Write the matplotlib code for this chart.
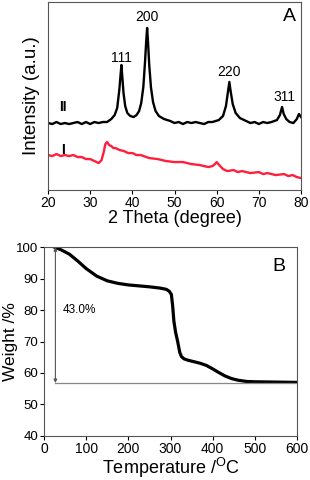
import matplotlib.pyplot as plt
import numpy as np

plt.rcParams['font.family'] = ['Liberation Sans', 'DejaVu Sans']

# XRD patterns (arbitrary intensity units)
xrd_theta_2 = [20, 21, 22, 23, 24, 25, 26, 27, 28, 29, 30, 31, 32, 33, 34, 35, 35.8, 36.4, 36.9, 37.2, 37.4,
               37.6, 37.9, 38.3, 38.8, 39.5, 40.3, 41, 41.6, 42.1, 42.6, 43, 43.3, 43.5, 43.7, 44, 44.4, 44.9,
               45.5, 46.3, 47.5, 49, 50, 51, 52, 53, 54, 55, 56, 57, 58, 59, 60.5, 61.5, 62.2, 62.7, 63, 63.3,
               63.8, 64.5, 65.5, 67, 68, 69, 70, 71, 72, 73, 74.3, 75, 75.5, 75.9, 76.5, 77.3, 78.2, 79, 79.5, 80]
xrd_I_2 = [67, 66, 68, 66, 67, 66, 67, 68, 66, 68, 66, 68, 67, 68, 68, 71, 75, 82, 100, 115, 125,
           114, 97, 84, 77, 74, 73, 75, 79, 87, 103, 128, 150, 162, 149, 125, 103, 88,
           79, 74, 71, 69, 67, 68, 66, 68, 67, 68, 67, 66, 68, 68, 70, 74, 84, 99, 108, 99,
           86, 77, 72, 69, 67, 68, 66, 68, 67, 68, 70, 75, 83, 76, 71, 68, 67, 71, 76, 73]
xrd_theta_1 = [20, 21, 22, 23, 24, 25, 26, 27, 28, 29, 30, 31, 32, 32.7, 33.2, 33.6, 34, 34.5, 35, 35.5, 36,
               37, 38, 39, 40, 41, 42, 44, 46, 48, 50, 52, 54, 56, 57, 58, 59, 59.6, 60, 60.6, 61.5, 62.5, 64,
               65, 66, 68, 70, 71, 72, 74, 76, 77, 78, 79, 80]
xrd_I_1 = [35, 34, 36, 34, 35, 34, 35, 33, 33, 31, 31, 29, 27, 30, 38, 46, 48, 45, 44, 42, 42,
           40, 39, 37, 37, 35, 35, 32, 31, 29, 28, 28, 26, 25, 24, 23, 24, 26, 28, 25, 21, 19, 20,
           18, 19, 17, 18, 16, 17, 15, 16, 14, 15, 13, 12]
peak_pos = [37.5, 43.5, 63, 76]
peak_lab = ['111', '200', '220', '311']
peak_y = [132, 173, 118, 93]

# TGA curve
tga_T = [25, 40, 60, 80, 100, 125, 150, 175, 200, 225, 250, 275, 290, 297, 302, 305, 308, 312, 317, 322,
         326, 332, 340, 355, 370, 385, 400, 415, 430, 445, 460, 480, 500, 550, 600]
tga_W = [100, 99.2, 97.8, 95.6, 93.2, 90.8, 89.3, 88.5, 88.0, 87.7, 87.4, 87.0, 86.6, 86.0, 85.0, 81.5, 76.5,
         73.0, 70.0, 66.5, 65.2, 64.5, 64.1, 63.6, 63.1, 62.4, 61.3, 60.1, 59.0, 58.2, 57.7, 57.3, 57.2, 57.1, 57.0]
loss_top, loss_bot = 100, 56.8

fig = plt.figure(figsize=(3.1, 4.8), dpi=100)
ax1 = fig.add_axes([0.155, 0.604, 0.816, 0.392])
ax2 = fig.add_axes([0.142, 0.092, 0.816, 0.393])

ax1.plot(xrd_theta_2, xrd_I_2, color='black', lw=1.7)
ax1.plot(xrd_theta_1, xrd_I_1, color='#ff1e3c', lw=1.7)
for p, lab, y in zip(peak_pos, peak_lab, peak_y):
    ax1.text(p, y, lab, ha='center', va='center', fontsize=10)
ax1.text(23.5, 83, 'II', ha='center', va='center', fontsize=10, fontweight='bold')
ax1.text(23.5, 40, 'I', ha='center', va='center', fontsize=10, fontweight='bold')
ax1.text(77.3, 173, 'A', ha='center', va='center', fontsize=14)
ax1.set_xlim(20, 80)
ax1.set_ylim(0, 188)
ax1.set_yticks([])
ax1.set_xticks(range(20, 81, 10))
ax1.set_xlabel('2 Theta (degree)', fontsize=13, labelpad=0)
ax1.set_ylabel('Intensity (a.u.)', fontsize=13.5, labelpad=6)

ax2.plot(tga_T, tga_W, color='black', lw=2.3)
ax2.plot([27, 600], [loss_bot, loss_bot], color='#888888', lw=0.9)
ax2.annotate('', xy=(27, loss_top), xytext=(27, loss_bot),
             arrowprops=dict(arrowstyle='<|-|>', color='#555555', lw=0.8, mutation_scale=5, shrinkA=0, shrinkB=0))
ax2.text(45, 80, '43.0%', ha='left', va='center', fontsize=8.5)
ax2.text(557, 94, 'B', ha='center', va='center', fontsize=14)
ax2.set_xlim(0, 600)
ax2.set_ylim(40, 100)
ax2.set_xticks(range(0, 601, 100))
ax2.set_yticks(range(40, 101, 10))
ax2.set_xlabel('Temperature /$^{\\mathregular{O}}$C', fontsize=13, labelpad=0)
ax2.set_ylabel('Weight /%', fontsize=12.5, labelpad=-1)

for ax in (ax1, ax2):
    ax.tick_params(labelsize=10, length=3, width=0.8, pad=1.5, colors='black')
    for s in ax.spines.values():
        s.set_color('#555555')
        s.set_linewidth(0.8)
ax2.tick_params(axis='y', labelsize=9.5, pad=1)

fig.savefig('out.png', dpi=100)
